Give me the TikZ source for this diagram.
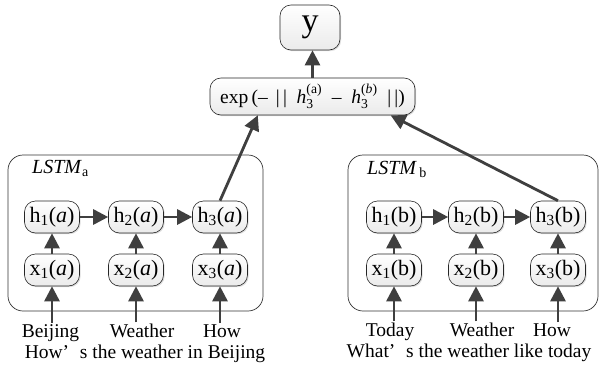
\documentclass[tikz,border=0pt]{standalone}
\usepackage{fontspec}
\setmainfont{Liberation Serif}
\usepackage{amsmath}
\usetikzlibrary{arrows.meta,shadows,calc}
\definecolor{arrc}{HTML}{3F3F3F}
\begin{document}
\begin{tikzpicture}[x=1pt,y=-1pt,
  cell/.style={draw=black!85, line width=0.6pt, rounded corners=11pt,
    top color=white, bottom color=gray!16,
    drop shadow={shadow xshift=1.2pt, shadow yshift=-1.2pt, opacity=0.25},
    minimum width=55pt, minimum height=32pt, inner sep=1.5pt,
    font=\fontsize{22}{24}\selectfont},
  container/.style={draw=black!80, line width=0.7pt, rounded corners=15pt, fill=white},
  arr/.style={draw=arrc, line width=2.8pt, -{Triangle[length=15pt,width=15pt]}},
  lbl/.style={font=\fontsize{19.5}{21}\selectfont, inner sep=1pt, anchor=base},
  title/.style={font=\fontsize{20}{22}\selectfont, inner sep=0pt, anchor=west}
]
\useasboundingbox (0,0) rectangle (602,367);

% containers
\node[container, minimum width=255pt, minimum height=156pt] (boxa) at (135.5,233) {};
\node[container, minimum width=250pt, minimum height=156pt] (boxb) at (473,233) {};
\node[title] (ta) at (32,168) {\textit{LSTM}\textsubscript{a}};
\node[title] (tb) at (367,169) {\textit{LSTM}\textsubscript{\,b}};

% top nodes
\node[cell, minimum width=60pt, minimum height=45pt, font=\fontsize{34}{36}\selectfont] (y) at (310,27.5) {y};
\node[cell, minimum width=205pt, minimum height=37pt, font=\fontsize{19.5}{21}\selectfont] (exp) at (312.5,96.5)
  {exp\,(–\ \,|\,|\ \ $\textit{h}_{\text{3}}^{\text{(a)}}$\ \ –\ \ $\textit{h}_{\text{3}}^{\text{(\textit{b})}}$\ \ |\,|)};

% LSTM a
\node[cell] (h1a) at (52,217) {h\textsubscript{1}(\textit{a})};
\node[cell] (h2a) at (136,217) {h\textsubscript{2}(\textit{a})};
\node[cell] (h3a) at (220,217) {h\textsubscript{3}(\textit{a})};
\node[cell] (x1a) at (52,270) {x\textsubscript{1}(\textit{a})};
\node[cell] (x2a) at (136,270) {x\textsubscript{2}(\textit{a})};
\node[cell] (x3a) at (220,270) {x\textsubscript{3}(\textit{a})};

% LSTM b
\node[cell] (h1b) at (394,217) {h\textsubscript{1}(b)};
\node[cell] (h2b) at (476,217) {h\textsubscript{2}(b)};
\node[cell] (h3b) at (558,217) {h\textsubscript{3}(b)};
\node[cell] (x1b) at (394,270) {x\textsubscript{1}(b)};
\node[cell] (x2b) at (476,270) {x\textsubscript{2}(b)};
\node[cell] (x3b) at (558,270) {x\textsubscript{3}(b)};

% words
\node[lbl] (wa1) at (50.5,337) {Beijing};
\node[lbl] (wa2) at (142,337) {Weather};
\node[lbl] (wa3) at (222,337) {How};
\node[lbl] (sa) at (145,358) {How’\hspace{0.55em}s the weather in Beijing};
\node[lbl] (wb1) at (390,336) {Today};
\node[lbl] (wb2) at (482,336) {Weather};
\node[lbl] (wb3) at (552,336) {How};
\node[lbl] (sb) at (469,357) {What’\hspace{0.55em}s the weather like today};

% arrows
\foreach \a/\b in {h1a/h2a,h2a/h3a,h1b/h2b,h2b/h3b} \draw[arr] (\a) -- (\b);
\foreach \n in {1,2,3} {
  \draw[arr] (x\n a) -- (h\n a);
  \draw[arr] (x\n b) -- (h\n b);
  \draw[arr] (x\n a.south |- wa\n.north) -- (x\n a.south);
  \draw[arr] (x\n b.south |- wb\n.north) -- (x\n b.south);
}
\draw[arr] (h3a.north) -- ($(exp.south west)!0.234!(exp.south east)$);
\draw[arr] (h3b.north) -- ($(exp.south west)!0.88!(exp.south east)$);
\draw[arr] (exp.north) -- (exp.north |- y.south);
\end{tikzpicture}
\end{document}
